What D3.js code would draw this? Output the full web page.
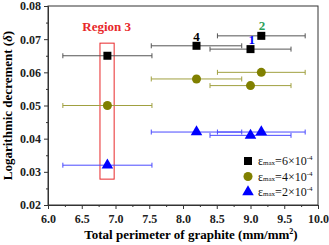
<!DOCTYPE html>
<html>
<head>
<meta charset="utf-8">
<script src="https://cdn.jsdelivr.net/npm/d3@7"></script>
<style>
  body { margin: 0; background: #fff; }
  svg { display: block; font-family: "Liberation Serif", "Times New Roman", serif; }
  svg text { font-family: "Liberation Serif", "Times New Roman", serif; }
</style>
</head>
<body>
<script>
// data
const perimeter = [6.88, 8.2, 9.0, 9.16];
const perimeterErr = [0.66, 0.67, 0.6, 0.65];
const eps6 = [0.065, 0.068, 0.067, 0.071];
const eps4 = [0.050, 0.058, 0.056, 0.060];
const eps2 = [0.032, 0.042, 0.041, 0.042];
const seriesNames = ["6", "4", "2"];
const xTicks = d3.range(6, 10.01, 0.5);
const yTicks = d3.range(0.02, 0.0801, 0.01);

const W = 329, H = 245;
const M = { left: 48, right: 11, top: 6, bottom: 40 };

const x = d3.scaleLinear().domain([6, 10]).range([M.left, W - M.right]);
const y = d3.scaleLinear().domain([0.02, 0.08]).range([H - M.bottom, M.top]);

const series = [
  { name: seriesNames[0], values: eps6, color: "#000000", bar: "#555555", shape: d3.symbolSquare, size: 64 },
  { name: seriesNames[1], values: eps4, color: "#808000", bar: "#a0a040", shape: d3.symbolCircle, size: 64 },
  { name: seriesNames[2], values: eps2, color: "#0000ff", bar: "#4a4aff", shape: d3.symbolTriangle, size: 58 },
];

const svg = d3.select("body").append("svg")
  .attr("width", W).attr("height", H);

// frame
svg.append("rect")
  .attr("x", x(6)).attr("y", y(0.08))
  .attr("width", x(10) - x(6)).attr("height", y(0.02) - y(0.08))
  .attr("fill", "none").attr("stroke", "#333").attr("stroke-width", 1);

// axes, major + minor ticks
const xAxis = g => g
  .attr("transform", `translate(0,${y(0.02)})`)
  .call(d3.axisBottom(x).tickValues(xTicks).tickFormat(d3.format(".1f")).tickSize(4).tickSizeOuter(0))
  .call(g => g.selectAll("text").attr("dy", "0.95em"));
const xMinor = g => g
  .attr("transform", `translate(0,${y(0.02)})`)
  .call(d3.axisBottom(x).tickValues(d3.range(6.25, 10, 0.5)).tickFormat("").tickSize(2).tickSizeOuter(0));
const yAxis = g => g
  .attr("transform", `translate(${x(6)},0)`)
  .call(d3.axisLeft(y).tickValues(yTicks).tickFormat(d3.format(".2f")).tickSize(4).tickSizeOuter(0));
const yMinor = g => g
  .attr("transform", `translate(${x(6)},0)`)
  .call(d3.axisLeft(y).tickValues(d3.range(0.025, 0.08, 0.01)).tickFormat("").tickSize(2).tickSizeOuter(0));

for (const a of [xMinor, yMinor, xAxis, yAxis]) {
  svg.append("g").call(a)
    .attr("font-family", null)
    .call(g => g.select(".domain").attr("stroke", "#333"))
    .call(g => g.selectAll("line").attr("stroke", "#333"))
    .call(g => g.selectAll("text")
      .style("font-family", "'Liberation Serif', serif")
      .attr("font-weight", "bold").attr("font-size", 12).attr("fill", "#222"));
}

// axis titles
const xt = svg.append("text")
  .attr("x", (x(6) + x(10)) / 2 + 8).attr("y", H - 6)
  .attr("text-anchor", "middle").attr("font-weight", "bold").attr("font-size", 13);
xt.append("tspan").text("Total perimeter of graphite (mm/mm");
xt.append("tspan").attr("dy", -5).attr("font-size", 8).text("2");
xt.append("tspan").attr("dy", 5).text(")");

const yt = svg.append("text")
  .attr("transform", `translate(12,${(y(0.02) + y(0.08)) / 2}) rotate(-90)`)
  .attr("text-anchor", "middle").attr("font-weight", "bold").attr("font-size", 13);
yt.append("tspan").text("Logarithmic decrement (");
yt.append("tspan").attr("font-style", "italic").text("δ");
yt.append("tspan").text(")");

// Region 3 box
svg.append("rect")
  .attr("x", x(6.77)).attr("y", y(0.0688))
  .attr("width", x(6.98) - x(6.77)).attr("height", y(0.0278) - y(0.0688))
  .attr("fill", "none").attr("stroke", "#e8282a").attr("stroke-width", 1);
svg.append("text")
  .attr("x", x(6.87)).attr("y", y(0.0725))
  .attr("text-anchor", "middle").attr("font-weight", "bold").attr("font-size", 13)
  .attr("fill", "#e8282a").text("Region 3");

// error bars and markers
series.forEach(s => {
  const g = svg.append("g");
  const pts = s.values.map((v, i) => ({ x: perimeter[i], e: perimeterErr[i], y: v }));
  g.selectAll("line.bar").data(pts).join("line")
    .attr("class", "bar")
    .attr("x1", d => x(d.x - d.e)).attr("x2", d => x(d.x + d.e))
    .attr("y1", d => y(d.y)).attr("y2", d => y(d.y))
    .attr("stroke", s.bar).attr("stroke-width", 1);
  g.selectAll("line.capl").data(pts).join("line")
    .attr("class", "capl")
    .attr("x1", d => x(d.x - d.e)).attr("x2", d => x(d.x - d.e))
    .attr("y1", d => y(d.y) - 2.5).attr("y2", d => y(d.y) + 2.5)
    .attr("stroke", s.bar);
  g.selectAll("line.capr").data(pts).join("line")
    .attr("class", "capr")
    .attr("x1", d => x(d.x + d.e)).attr("x2", d => x(d.x + d.e))
    .attr("y1", d => y(d.y) - 2.5).attr("y2", d => y(d.y) + 2.5)
    .attr("stroke", s.bar);
  g.selectAll("path").data(pts).join("path")
    .attr("transform", d => `translate(${x(d.x)},${y(d.y)})`)
    .attr("d", d3.symbol(s.shape, s.size))
    .attr("fill", s.color);
});

// point labels
svg.append("text").attr("x", x(8.2)).attr("y", y(0.0695))
  .attr("text-anchor", "middle").attr("font-weight", "bold").attr("font-size", 13)
  .text("4");
svg.append("text").attr("x", x(9.17)).attr("y", y(0.0727))
  .attr("text-anchor", "middle").attr("font-weight", "bold").attr("font-size", 13)
  .attr("fill", "#2ca05a").text("2");
svg.append("text").attr("x", x(9.02)).attr("y", y(0.0685))
  .attr("text-anchor", "middle").attr("font-weight", "bold").attr("font-size", 13)
  .attr("fill", "#0000ff").text("1");

// legend
const legend = svg.append("g");
series.forEach((s, i) => {
  const ly = 161 + i * 15.5;
  legend.append("path")
    .attr("transform", `translate(248,${ly})`)
    .attr("d", d3.symbol(s.shape, s.size))
    .attr("fill", s.color);
  const t = legend.append("text").attr("x", 258).attr("y", ly + 4)
    .attr("font-size", 12).attr("fill", "#111");
  t.append("tspan").text("ε");
  t.append("tspan").attr("font-size", 7).text("max");
  t.append("tspan").attr("font-size", 12).text(`=${s.name}×10`);
  t.append("tspan").attr("font-size", 7).attr("dy", -5).text("-4");
});
</script>
</body>
</html>
